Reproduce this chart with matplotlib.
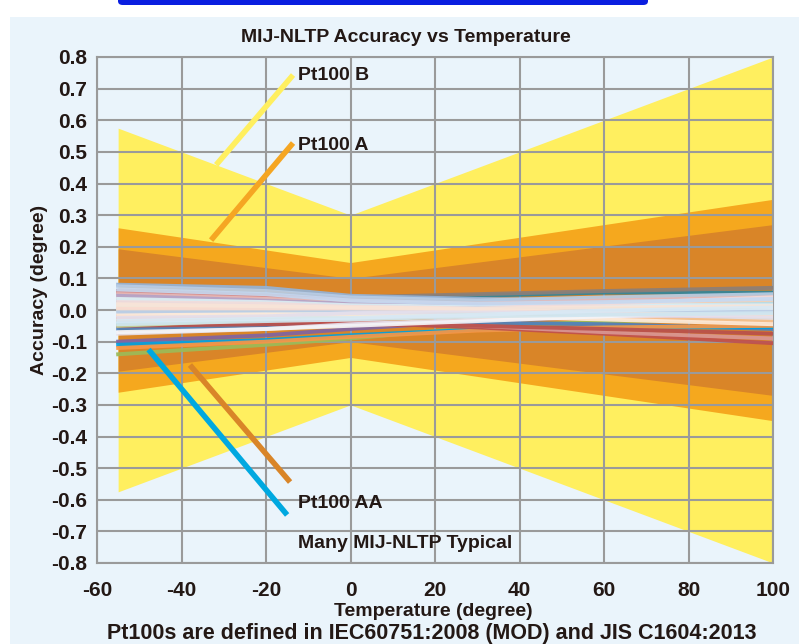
import matplotlib
matplotlib.use("Agg")
import matplotlib.pyplot as plt
from matplotlib.patches import Rectangle, FancyBboxPatch
from matplotlib import font_manager

names = {f.name for f in font_manager.fontManager.ttflist}
fam = 'Liberation Sans Narrow' if 'Liberation Sans Narrow' in names else 'Liberation Sans'
plt.rcParams['font.family'] = [fam, 'DejaVu Sans']
plt.rcParams['font.weight'] = 'bold'

# ---- data ----
title = "MIJ-NLTP Accuracy vs Temperature"
x_label = "Temperature (degree)"
y_label = "Accuracy (degree)"
footnote = "Pt100s are defined in IEC60751:2008 (MOD) and JIS C1604:2013"

x_ticks = [-60, -40, -20, 0, 20, 40, 60, 80, 100]
y_ticks = [-0.8, -0.7, -0.6, -0.5, -0.4, -0.3, -0.2, -0.1, 0.0, 0.1, 0.2, 0.3, 0.4, 0.5, 0.6, 0.7, 0.8]

band_temp = [-55, 0, 100]
pt100_b = [0.575, 0.30, 0.80]
pt100_a = [0.26, 0.15, 0.35]
pt100_aa = [0.1935, 0.10, 0.27]

typ_temp = [-55, -20, 0, 30, 60, 100]
typ_colors = [
    '#31859C', '#8C7F78', '#C0504D', '#95B3D7', '#D99694', '#B9CDE5', '#E6B9B8',
    '#FCD5B5', '#CCC1DA', '#B7DEE8', '#D7E4BD', '#F2DCDB', '#DCE6F2', '#8064A2',
    '#9BBB59', '#4F81BD', '#00A0E0', '#F79646', '#C0504D', '#D99694', '#B9504D',
    '#93CDDD', '#FAC090', '#E6E0EC', '#B3A2C7', '#C3D69B', '#EBF1DE', '#FDEADA',
    '#DBEEF4', '#F4F4F8', '#F2DCDB', '#B9CDE5', '#C6D9F1', '#F9DCD0', '#E4DFEC',
    '#D0E6F0', '#F8E4D8', '#D8E9F5',
]
typ_values = [
    [0.030, 0.030, 0.035, 0.045, 0.055, 0.055],
    [0.060, 0.050, 0.040, 0.050, 0.060, 0.070],
    [0.060, 0.045, 0.035, 0.020, 0.010, 0.000],
    [0.080, 0.070, 0.045, 0.035, 0.030, 0.030],
    [0.055, 0.040, 0.030, 0.015, 0.010, 0.025],
    [0.075, 0.060, 0.040, 0.030, 0.040, 0.050],
    [0.050, 0.035, 0.025, 0.020, 0.030, 0.040],
    [0.040, 0.030, 0.020, 0.010, 0.015, 0.030],
    [0.030, 0.020, 0.015, 0.005, 0.000, -0.010],
    [0.020, 0.015, 0.010, 0.000, 0.010, 0.020],
    [0.000, 0.000, -0.005, -0.005, 0.005, 0.010],
    [0.010, 0.005, 0.000, -0.010, -0.020, -0.030],
    [-0.010, -0.010, -0.010, -0.010, -0.005, 0.000],
    [-0.100, -0.080, -0.060, -0.035, -0.020, -0.020],
    [-0.140, -0.110, -0.090, -0.055, -0.035, -0.030],
    [-0.060, -0.050, -0.045, -0.040, -0.045, -0.060],
    [-0.110, -0.095, -0.080, -0.062, -0.056, -0.054],
    [-0.120, -0.100, -0.085, -0.065, -0.055, -0.050],
    [-0.030, -0.035, -0.040, -0.055, -0.075, -0.105],
    [-0.020, -0.025, -0.035, -0.050, -0.070, -0.090],
    [-0.050, -0.045, -0.045, -0.050, -0.060, -0.075],
    [-0.040, -0.030, -0.020, -0.015, -0.010, -0.005],
    [-0.030, -0.025, -0.020, -0.020, -0.025, -0.035],
    [-0.075, -0.060, -0.045, -0.030, -0.020, -0.015],
    [0.045, 0.030, 0.020, 0.015, 0.005, -0.015],
    [-0.050, -0.030, -0.020, -0.010, 0.005, 0.005],
    [0.015, 0.010, 0.005, 0.000, -0.005, -0.015],
    [-0.015, -0.015, -0.015, -0.020, -0.030, -0.045],
    [0.035, 0.025, 0.015, 0.010, 0.015, 0.015],
    [-0.070, -0.060, -0.050, -0.035, -0.020, 0.000],
    [0.025, 0.020, 0.010, 0.005, 0.020, 0.040],
    [-0.005, 0.000, 0.000, 0.005, 0.000, -0.005],
    [0.065, 0.050, 0.030, 0.020, 0.025, 0.035],
    [0.005, 0.005, 0.005, 0.002, -0.010, -0.020],
    [-0.025, -0.020, -0.010, -0.005, -0.012, -0.025],
    [-0.045, -0.035, -0.030, -0.020, -0.015, -0.010],
    [0.018, 0.012, 0.008, 0.004, 0.008, 0.012],
    [-0.035, -0.028, -0.025, -0.015, -0.002, 0.008],
]

# annotation pointer lines
labels = ["Pt100 B", "Pt100 A", "Pt100 AA", "Many MIJ-NLTP Typical"]
label_colors = ['#FFEF5F', '#F5A623', '#D98528', '#00A8E0']
ptr_start_x = [-31.8, -33.0, -38.0, -47.8]
ptr_start_y = [0.459, 0.221, -0.174, -0.125]
ptr_end_x = [-13.6, -13.6, -14.3, -15.0]
ptr_end_y = [0.743, 0.528, -0.544, -0.648]
label_y = [0.743, 0.519, -0.613, -0.737]
label_x = -12.4

# ---- style ----
panel_bg = '#EAF4FB'
c_b, c_a, c_aa = '#FFEF5F', '#F5A81E', '#D98528'
grid_c = '#9A9A9A'
txt_c = '#231815'

W, H = 799, 644
fig = plt.figure(figsize=(W / 100, H / 100), dpi=100)
fig.patch.set_facecolor('white')
fig.patches.append(Rectangle((10 / W, 0), 1 - 10 / W, (H - 17) / H,
                             transform=fig.transFigure, facecolor=panel_bg,
                             edgecolor='none', zorder=-2))
fig.patches.append(FancyBboxPatch((118 / W, (H - 5) / H), 530 / W, 20 / H,
                                  boxstyle='round,pad=0,rounding_size=0.006',
                                  transform=fig.transFigure, facecolor='#0A1EE0',
                                  edgecolor='none', zorder=-2))

ax = fig.add_axes([97 / W, 81 / H, 676 / W, 506 / H])
ax.set_zorder(1)
ax.set_facecolor(panel_bg)

def neg(v):
    return [-a for a in v]

ax.fill_between(band_temp, neg(pt100_b), pt100_b, color=c_b, lw=0, zorder=1)
ax.fill_between(band_temp, neg(pt100_a), pt100_a, color=c_a, lw=0, zorder=1.1)
ax.fill_between(band_temp, neg(pt100_aa), pt100_aa, color=c_aa, lw=0, zorder=1.2)

for col, vals in zip(typ_colors, typ_values):
    ax.plot(typ_temp, vals, color=col, lw=2.8, alpha=0.92, zorder=3,
            solid_joinstyle='round')

for i, lab in enumerate(labels):
    ax.plot([ptr_start_x[i], ptr_end_x[i]], [ptr_start_y[i], ptr_end_y[i]],
            color=label_colors[i], lw=4, zorder=4, solid_capstyle='butt')
    ax.text(label_x, label_y[i], lab, fontsize=14, fontweight='bold',
            color=txt_c, va='center', ha='left', zorder=5)

ax.set_xlim(-60, 100)
ax.set_ylim(-0.8, 0.8)
ax.set_xticks(x_ticks)
ax.set_yticks(y_ticks)
ax.set_xticklabels([str(t) for t in x_ticks])
ax.set_yticklabels(['%.1f' % t for t in y_ticks])
ax.set_axisbelow(False)
ax.grid(True, color=grid_c, lw=1.5, zorder=2.5)
ax.tick_params(length=0, labelsize=15, labelcolor=txt_c)
ax.tick_params(axis='x', pad=13)
ax.tick_params(axis='y', pad=7)
for lbl in ax.get_xticklabels() + ax.get_yticklabels():
    lbl.set_fontweight('bold')
for s in ax.spines.values():
    s.set_color(grid_c)
    s.set_linewidth(1.5)

fig.text(406 / W, (H - 37) / H, title, fontsize=14, fontweight='bold',
         color=txt_c, ha='center', va='center')
fig.text(433 / W, (H - 612) / H, x_label, fontsize=14, fontweight='bold',
         color=txt_c, ha='center', va='center')
fig.text(432 / W, (H - 633) / H, footnote, fontsize=15.5, fontweight='bold',
         color=txt_c, ha='center', va='center')
fig.text(40 / W, (H - 290) / H, y_label, fontsize=14, fontweight='bold',
         color=txt_c, ha='center', va='center', rotation=90)

fig.savefig('out.png', dpi=100, facecolor='white')
